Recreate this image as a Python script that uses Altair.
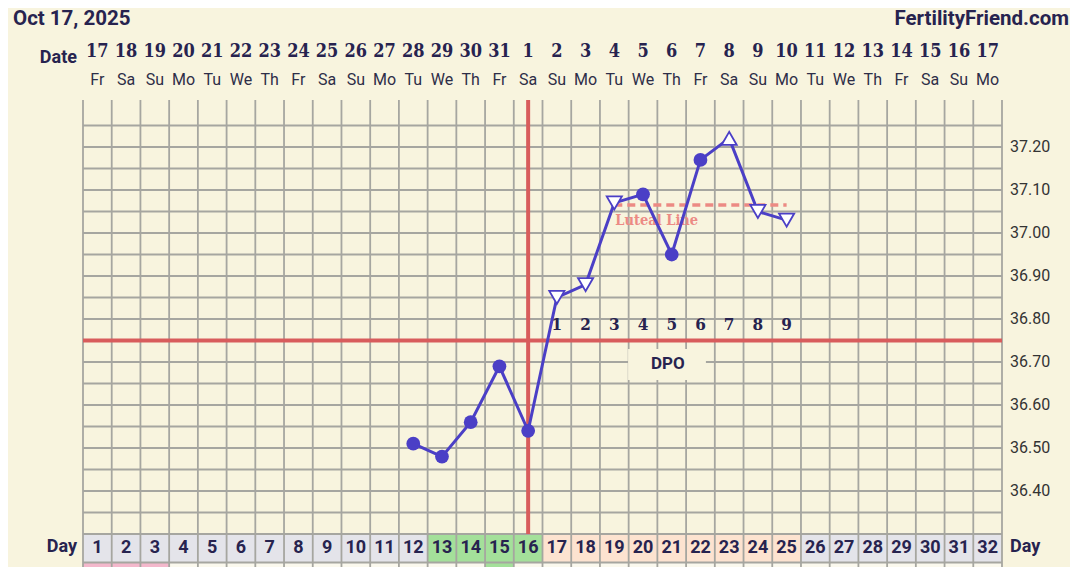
import altair as alt
import pandas as pd

BG = "#f8f4de"
NAVY = "#27234f"
GRID = "#a6a6a0"
RED = "#d85c5c"
PURPLE = "#4b3fc6"
SALMON = "#ec8a84"

days = list(range(1, 33))
date_labels = ["17", "18", "19", "20", "21", "22", "23", "24", "25", "26", "27", "28", "29", "30", "31",
               "1", "2", "3", "4", "5", "6", "7", "8", "9", "10", "11", "12", "13", "14", "15", "16", "17"]
weekday_labels = ["Fr", "Sa", "Su", "Mo", "Tu", "We", "Th", "Fr", "Sa", "Su", "Mo", "Tu", "We", "Th", "Fr",
                  "Sa", "Su", "Mo", "Tu", "We", "Th", "Fr", "Sa", "Su", "Mo", "Tu", "We", "Th", "Fr", "Sa", "Su", "Mo"]
day_phase = ["none"] * 12 + ["fertile"] * 4 + ["luteal"] * 9 + ["none"] * 7
lower_row = ["pink"] * 3 + ["plain"] * 11 + ["green"] + ["plain"] * 17

temp_days = [12, 13, 14, 15, 16, 17, 18, 19, 20, 21, 22, 23, 24, 25]
temps = [36.51, 36.48, 36.56, 36.69, 36.54, 36.85, 36.88, 37.07, 37.09, 36.95, 37.17, 37.22, 37.05, 37.03]
markers = ["circle", "circle", "circle", "circle", "circle", "triangle-down", "triangle-down", "triangle-down",
           "circle", "circle", "circle", "triangle-up", "triangle-down", "triangle-down"]

dpo_days = [17, 18, 19, 20, 21, 22, 23, 24, 25]
dpo_labels = ["1", "2", "3", "4", "5", "6", "7", "8", "9"]

coverline = 36.75
ovulation_day = 16
luteal_level = 37.065
luteal_start, luteal_end = 19, 25

y_ticks = [36.40, 36.50, 36.60, 36.70, 36.80, 36.90, 37.00, 37.10, 37.20]
h_grid = [36.30, 36.35, 36.40, 36.45, 36.50, 36.55, 36.60, 36.65, 36.70, 36.75, 36.80, 36.85, 36.90, 36.95,
          37.00, 37.05, 37.10, 37.15, 37.20, 37.25]
v_grid = [d - 0.5 for d in days] + [32.5]

PHASE_COLORS = {"none": "#e4e4ea", "fertile": "#a4e09a", "luteal": "#fde3d0"}
LOW_COLORS = {"pink": "#f4b8cc", "plain": "#fbf9ee", "green": "#a4e09a"}

xs = alt.Scale(domain=[0.5, 32.5], nice=False, zero=False)
ys = alt.Scale(domain=[36.30, 37.30], nice=False, zero=False)

cal = pd.DataFrame({"day": days, "date": date_labels, "wd": weekday_labels, "phase": day_phase,
                    "low": lower_row, "lbl": [str(d) for d in days]})
cal["x0"] = cal["day"] - 0.5
cal["x1"] = cal["day"] + 0.5
cal["phase_col"] = cal["phase"].map(PHASE_COLORS)
cal["low_col"] = cal["low"].map(LOW_COLORS)
temp_df = pd.DataFrame({"day": temp_days, "temp": temps, "marker": markers})

SERIF = "DejaVu Serif Condensed, DejaVu Serif"

day_cells = alt.Chart(cal).mark_rect(stroke=None).encode(
    x=alt.X("x0:Q", scale=xs, axis=None), x2="x1:Q",
    y=alt.value(430), y2=alt.value(458),
    fill=alt.Fill("phase_col:N", scale=None))
low_cells = alt.Chart(cal).mark_rect(stroke=None).encode(
    x=alt.X("x0:Q", scale=xs, axis=None), x2="x1:Q",
    y=alt.value(459), y2=alt.value(490),
    fill=alt.Fill("low_col:N", scale=None))

hgrid = alt.Chart(pd.DataFrame({"v": h_grid})).mark_rule(color=GRID, strokeWidth=1.8).encode(
    y=alt.Y("v:Q", scale=ys, axis=alt.Axis(values=y_ticks, format=".2f", title=None, ticks=False,
                                           domain=False, grid=False, labelFontSize=16, labelFont="Roboto",
                                           labelColor="#333333", labelPadding=7)))
vgrid = alt.Chart(pd.DataFrame({"v": v_grid})).mark_rule(color=GRID, strokeWidth=1.8).encode(
    x=alt.X("v:Q", scale=xs, axis=None), y=alt.value(-4), y2=alt.value(490))
bottom_border = alt.Chart(pd.DataFrame({"v": [0]})).mark_rule(color=GRID, strokeWidth=1.8).encode(
    x=alt.value(0), x2=alt.value(919), y=alt.value(458.5))

dpo_box = alt.Chart(pd.DataFrame({"a": [19.48], "b": [22.19]})).mark_rect(color=BG).encode(
    x=alt.X("a:Q", scale=xs, axis=None), x2="b:Q", y=alt.value(245), y2=alt.value(276))

cover = alt.Chart(pd.DataFrame({"v": [coverline]})).mark_rule(color=RED, strokeWidth=4).encode(
    y=alt.Y("v:Q", scale=ys, axis=None))
ovu = alt.Chart(pd.DataFrame({"v": [ovulation_day]})).mark_rule(color=RED, strokeWidth=4).encode(
    x=alt.X("v:Q", scale=xs, axis=None), y=alt.value(-4), y2=alt.value(430))

luteal = alt.Chart(pd.DataFrame({"a": [luteal_start], "b": [luteal_end], "v": [luteal_level]})).mark_rule(
    color=SALMON, strokeWidth=3.5, strokeDash=[8, 5]).encode(
    x=alt.X("a:Q", scale=xs, axis=None), x2="b:Q", y=alt.Y("v:Q", scale=ys, axis=None))
luteal_txt = alt.Chart(pd.DataFrame({"t": ["Luteal Line"], "a": [luteal_start]})).mark_text(
    font=SERIF, fontWeight="bold", fontSize=14.5, color=SALMON,
    align="left", baseline="middle", dx=1).encode(
    x=alt.X("a:Q", scale=xs, axis=None), y=alt.value(117), text="t:N")

line = alt.Chart(temp_df).mark_line(color=PURPLE, strokeWidth=3).encode(
    x=alt.X("day:Q", scale=xs, axis=None), y=alt.Y("temp:Q", scale=ys, axis=None))
circles = alt.Chart(temp_df).transform_filter(alt.datum.marker == "circle").mark_point(
    filled=True, color=PURPLE, size=190, opacity=1).encode(
    x=alt.X("day:Q", scale=xs, axis=None), y=alt.Y("temp:Q", scale=ys, axis=None))
tris = alt.Chart(temp_df).transform_filter(alt.datum.marker != "circle").mark_point(
    filled=True, fill="white", stroke=PURPLE, strokeWidth=1.8, size=230, opacity=1).encode(
    x=alt.X("day:Q", scale=xs, axis=None), y=alt.Y("temp:Q", scale=ys, axis=None),
    shape=alt.Shape("marker:N", scale=alt.Scale(domain=["triangle-down", "triangle-up"],
                                                range=["triangle-down", "triangle-up"]), legend=None))

dpo_df = pd.DataFrame({"day": dpo_days, "t": dpo_labels})
dpo_nums = alt.Chart(dpo_df).mark_text(font=SERIF, fontWeight="bold", fontSize=17, color=NAVY).encode(
    x=alt.X("day:Q", scale=xs, axis=None), y=alt.value(221), text="t:N")
dpo_word = alt.Chart(pd.DataFrame({"t": ["DPO"], "a": [21]})).mark_text(
    font="Roboto", fontWeight="bold", fontSize=17, color=NAVY, dx=-4).encode(
    x=alt.X("a:Q", scale=xs, axis=None), y=alt.value(260), text="t:N")

date_txt = alt.Chart(cal).mark_text(font=SERIF, fontWeight="bold", fontSize=18, color=NAVY).encode(
    x=alt.X("day:Q", scale=xs, axis=None), y=alt.value(-52), text="date:N")
wd_txt = alt.Chart(cal).mark_text(font="Roboto", fontSize=16, color="#2e2e48").encode(
    x=alt.X("day:Q", scale=xs, axis=None), y=alt.value(-24), text="wd:N")
day_txt = alt.Chart(cal).mark_text(font="Roboto", fontWeight="bold", fontSize=18, color=NAVY).encode(
    x=alt.X("day:Q", scale=xs, axis=None), y=alt.value(444), text="lbl:N")

right_df = pd.DataFrame({"v": y_ticks, "t": [f"{v:.2f}" for v in y_ticks]})
right_lbls = alt.Chart(right_df).mark_text(font="Roboto", fontSize=16, color="#333333", align="left").encode(
    x=alt.value(927), y=alt.Y("v:Q", scale=ys, axis=None), text="t:N")


def label(text, px, py, size, align, weight="bold"):
    return alt.Chart(pd.DataFrame({"t": [text]})).mark_text(
        font="Roboto", fontWeight=weight, fontSize=size, color=NAVY, align=align, baseline="middle").encode(
        x=alt.value(px), y=alt.value(py), text="t:N")


head_date = label("Oct 17, 2025", -70, -85, 20.5, "left")
head_site = label("FertilityFriend.com", 986, -85, 20.5, "right")
date_word = label("Date", -6, -46, 18, "right")
day_word_l = label("Day", -6, 443, 18, "right")
day_word_r = label("Day", 927, 443, 18, "left")

chart = alt.layer(
    day_cells, low_cells, hgrid, vgrid, bottom_border, dpo_box, cover, ovu, luteal, luteal_txt,
    line, circles, tris, dpo_nums, dpo_word, date_txt, wd_txt, day_txt, right_lbls,
    head_date, head_site, date_word, day_word_l, day_word_r
).properties(
    width=919, height=430, background=BG,
    padding={"left": 75, "top": 96, "right": 68, "bottom": 33},
    autosize=alt.AutoSizeParams(type="none")
).configure_view(stroke=None)

chart.save("out.html", embed_options={"renderer": "svg", "actions": False})
